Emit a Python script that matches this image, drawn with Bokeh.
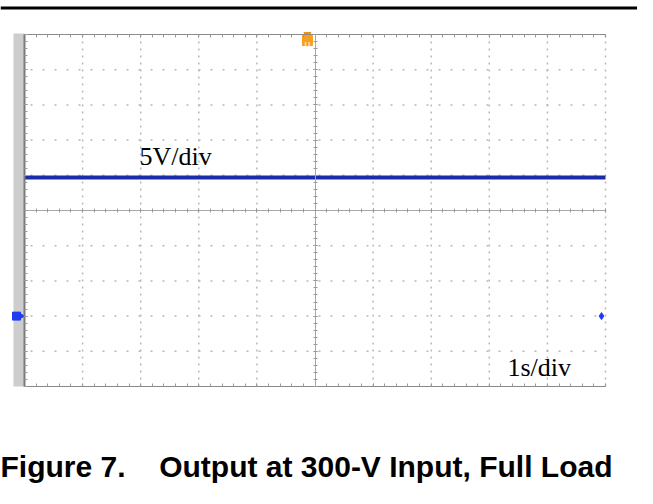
import numpy as np
from bokeh.plotting import figure
from bokeh.models import Range1d, LinearAxis, FixedTicker, Grid, Label, Span
from bokeh.embed import file_html
from bokeh.resources import INLINE

# ---------------- data (read from the scope shot) ----------------
time_s = [-5.0, -4.0, -3.0, -2.0, -1.0, 0.0, 1.0, 2.0, 3.0, 4.0, 5.0]
vout_v = [19.7, 19.7, 19.7, 19.7, 19.7, 19.7, 19.7, 19.7, 19.7, 19.7, 19.7]
volts_per_div = 5
sec_per_div = 1
ch1_ground_v = 0.0
trigger_time_s = -0.13
trigger_level_v = 0.0
label_vdiv = "5V/div"
label_tdiv = "1s/div"
caption_fig = "Figure 7."
caption_text = "Output at 300-V Input, Full Load"

# ---------------- layout ----------------
W, H = 637, 488
PX_L, PX_R, PX_T, PX_B = 24, 605, 34, 386   # scope screen inside the canvas
x_lo, x_hi = -5 * sec_per_div, 5 * sec_per_div
y_lo, y_hi = ch1_ground_v - 2 * volts_per_div, ch1_ground_v + 8 * volts_per_div
kx = (PX_R - PX_L) / (x_hi - x_lo)
ky = (PX_B - PX_T) / (y_hi - y_lo)
xr = Range1d(x_lo - PX_L / kx, x_hi + (W - PX_R) / kx)
yr = Range1d(y_lo - (H - PX_B) / ky, y_hi + PX_T / ky)


def dx(px):
    return xr.start + px / kx


def dy(py):
    return yr.end - py / ky


p = figure(width=W, height=H, x_range=xr, y_range=yr, min_border=0,
           x_axis_location=None, y_axis_location=None, toolbar_location=None,
           outline_line_color=None, output_backend="svg",
           background_fill_color="white", border_fill_color="white")
p.center = [c for c in p.center if not isinstance(c, Grid)]

major_x = [float(v) for v in np.arange(x_lo, x_hi + 1e-9, sec_per_div)]
minor_x = [float(v) for v in np.arange(x_lo, x_hi + 1e-9, sec_per_div / 5)]
major_y = [float(v) for v in np.arange(y_lo, y_hi + 1e-9, volts_per_div)]
minor_y = [float(v) for v in np.arange(y_lo, y_hi + 1e-9, volts_per_div / 5)]
y_mid = (y_lo + y_hi) / 2
x_mid = (x_lo + x_hi) / 2

# dotted graticule, limited to the screen
vx = [t for t in major_x[1:] if t != x_mid]
hy = [t for t in major_y[1:-1] if t != y_mid]
p.multi_line(xs=[[t, t] for t in vx], ys=[[y_lo, y_hi]] * len(vx),
             line_color="#b8b8b8", line_width=1.5, line_dash="2 5")
p.multi_line(xs=[[x_lo, x_hi]] * len(hy), ys=[[t, t] for t in hy],
             line_color="#b8b8b8", line_width=1.5, line_dash="2 10", line_dash_offset=6)

# gray strip at the left of the screen
p.quad(left=[dx(13)], right=[x_lo], bottom=[y_lo], top=[dy(PX_T - 1)],
       fill_color="#cdcdcd", line_color=None)


def make_axis(ticks, minors, loc, bounds, tin, tout, color, lw=1):
    ax = LinearAxis(fixed_location=loc, bounds=bounds,
                    ticker=FixedTicker(ticks=ticks, minor_ticks=minors),
                    axis_line_color=color, axis_line_width=lw,
                    major_tick_line_color="#9a9a9a", minor_tick_line_color="#9a9a9a",
                    major_tick_in=tin, major_tick_out=tout,
                    minor_tick_in=tin, minor_tick_out=tout,
                    major_label_text_font_size="0px", major_label_text_color=None)
    return ax


p.add_layout(make_axis(major_x, minor_x, y_hi, (x_lo, x_hi), 3, 0, "#8a8a8a"), "above")
p.add_layout(make_axis(major_x, minor_x, y_lo, (x_lo, x_hi), 3, 0, "#8a8a8a"), "below")
p.add_layout(make_axis(major_y, minor_y, x_lo, (y_lo, y_hi), 3, 0, "#7a7a7a", 2), "left")
p.add_layout(make_axis(major_x, minor_x, y_mid, (x_lo, x_hi), 2, 2, "#a8a8a8"), "below")
p.add_layout(make_axis(major_y, minor_y, x_mid, (y_lo, y_hi), 2, 2, "#a8a8a8"), "left")

# the trace
p.line(time_s, vout_v, line_width=4, line_color="#1c2ca6")

# channel / trigger markers
p.scatter([dx(16)], [ch1_ground_v], marker="square", size=8, color="#1d3cf2")
p.scatter([dx(20)], [ch1_ground_v], marker="triangle", angle=-np.pi / 2, size=7, color="#1d3cf2")
p.scatter([dx(601)], [trigger_level_v], marker="diamond", size=7, color="#2036ff")
p.scatter([trigger_time_s], [y_hi], marker="inverted_triangle", size=7, color="#f09010")
p.scatter([trigger_time_s], [dy(40)], marker="square", size=10, color="#f5a020")
p.add_layout(Label(x=trigger_time_s, y=dy(44), text="U", text_align="center",
                   text_baseline="alphabetic", text_font="Liberation Sans",
                   text_font_size="8px", text_font_style="bold", text_color="#fde8c8"))

# scale annotations
p.add_layout(Label(x=dx(139), y=dy(156), text=label_vdiv, text_baseline="alphabetic",
                   text_font="Liberation Serif", text_font_size="26px", text_color="black"))
p.add_layout(Label(x=dx(507), y=dy(367), text=label_tdiv, text_baseline="alphabetic",
                   text_font="Liberation Serif", text_font_size="26px", text_color="black"))

# top rule of the page
p.add_layout(Span(location=dy(7.5), dimension="width", line_color="black", line_width=3))

# caption
p.add_layout(Label(x=dx(0), y=dy(466), text=caption_fig, text_baseline="alphabetic",
                   text_font="Liberation Sans", text_font_style="bold",
                   text_font_size="30px", text_color="black"))
p.add_layout(Label(x=dx(612), y=dy(466), text=caption_text, text_baseline="alphabetic",
                   text_align="right", text_font="Liberation Sans",
                   text_font_style="bold", text_font_size="30px", text_color="black"))

open("out.html", "w").write(file_html(p, INLINE))
